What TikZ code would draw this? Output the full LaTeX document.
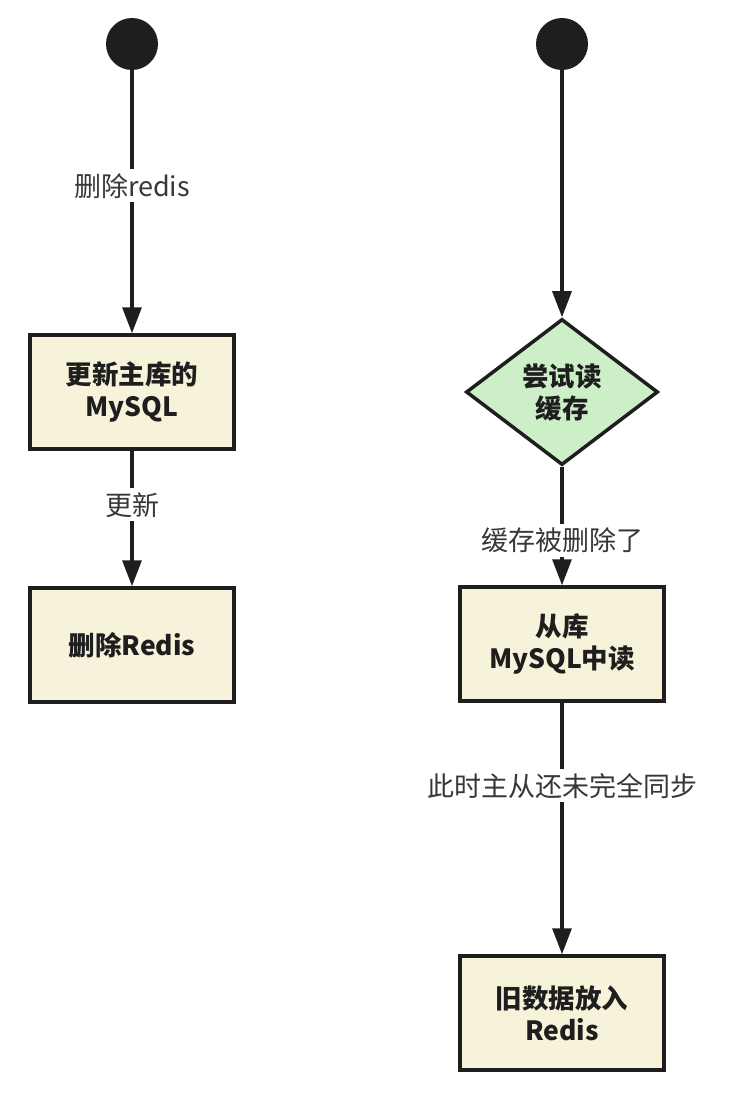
\documentclass[tikz,border=0pt]{standalone}
\usepackage{fontspec}
\setmainfont{Noto Sans CJK SC}
\usetikzlibrary{shapes.geometric}
\usetikzlibrary{arrows.meta}
\definecolor{boxfill}{RGB}{247,243,218}
\definecolor{decfill}{RGB}{205,239,200}
\definecolor{inkdark}{RGB}{30,30,30}
\definecolor{labelgray}{RGB}{55,55,55}
\tikzset{
    start/.style={circle, fill=inkdark, minimum size=52pt, inner sep=0pt},
    common/.style={draw=inkdark, line width=3.5pt, align=center, text=inkdark, font=\bfseries\fontsize{26.5}{32}\selectfont},
    box/.style={common, rectangle, fill=boxfill, minimum width=204pt, minimum height=114pt},
    decision/.style={common, diamond, fill=decfill, minimum width=192pt, minimum height=146pt, inner sep=0pt},
    flow/.style={-{Triangle[length=26pt, width=19pt]}, line width=3.2pt, draw=inkdark},
    lbl/.style={fill=white, inner sep=4pt, text=labelgray, font=\fontsize{27}{30}\selectfont}
}

\begin{document}
\begin{tikzpicture}[x=1pt, y=-1pt]
              \useasboundingbox[fill=white] (0,0) rectangle (733,1108);

              % left: write path
              \path
                  (132,44) node[start] (startL) {}
                  (132,392) node[box] (updMaster) {更新主库的\\MySQL}
                  (132,645) node[box] (delRedis) {删除Redis};

              % right: read path
              \path
                  (562,44) node[start] (startR) {}
                  (562,392) node[decision] (tryCache) {尝试读\\缓存}
                  (562,644) node[box] (readSlave) {从库\\MySQL中读}
                  (562,1013) node[box] (putOld) {旧数据放入\\Redis};

              \draw[flow] (startL) -- node[lbl, pos=0.44] {删除redis} (updMaster);
              \draw[flow] (updMaster) -- node[lbl, pos=0.40] {更新} (delRedis);

              \draw[flow] (startR) -- (tryCache);
              \draw[flow] (tryCache) -- node[lbl, pos=0.62] {缓存被删除了} (readSlave);
              \draw[flow] (readSlave) -- node[lbl, pos=0.33] {此时主从还未完全同步} (putOld);
            \end{tikzpicture}
\end{document}
